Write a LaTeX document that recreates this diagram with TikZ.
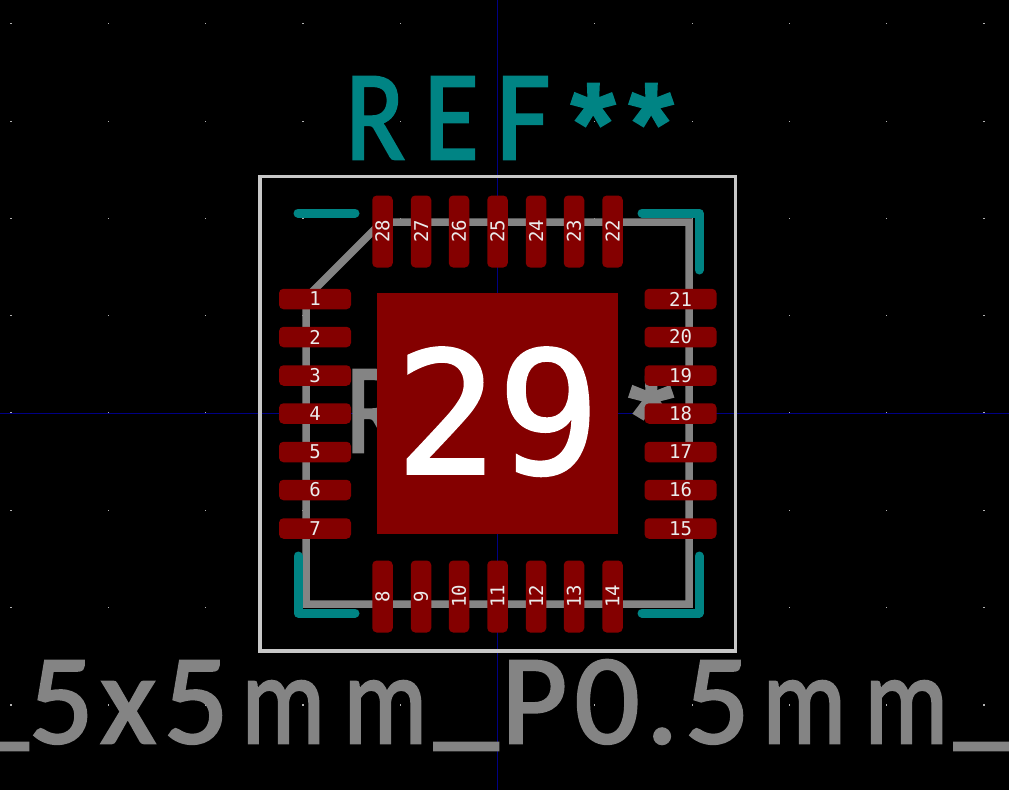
\documentclass[tikz,border=0pt]{standalone}
\usepackage{fontspec}
\setmainfont{Carlito}
\newfontfamily\numfont{DejaVu Sans Mono}
\newfontfamily\hugefont[RawFeature={embolden=1.5}]{DejaVu Sans Mono}
\newfontfamily\bigfont[RawFeature={embolden=2}]{Carlito}
\newfontfamily\starfont[RawFeature={embolden=5}]{Liberation Sans}
\definecolor{pad}{HTML}{840000}
\definecolor{silk}{HTML}{008484}
\definecolor{fab}{HTML}{848484}
\definecolor{crt}{HTML}{C8C8C8}
\definecolor{axis}{HTML}{000084}
\newcommand{\gl}[2]{\hbox to 0pt{\hss#2\hss}\kern#1bp\relax}
\newcommand{\nar}[2]{\scalebox{#1}[1]{#2}}
\newcommand{\und}{\raisebox{10bp}{\_}}
\newcommand{\stc}{\raisebox{-2bp}{\starfont\fontsize{110bp}{110bp}\selectfont *}}
\tikzset{
  x=1bp,y=-1bp,
  padbase/.style={fill=pad,rounded corners=4.5bp,inner sep=0pt,minimum width=72bp,minimum height=20.5bp,text=white!92!black,font=\numfont\fontsize{19bp}{19bp}\selectfont},
  hpad/.style={padbase},
  vpad/.style={padbase,rotate=90},
  epad/.style={fill=pad,inner sep=0pt,minimum width=241bp,minimum height=241bp,text=white,font=\hugefont\fontsize{170bp}{170bp}\selectfont},
  silkline/.style={draw=silk,line width=9bp,line cap=round,line join=round},
  fabline/.style={draw=fab,line width=7.5bp,line cap=round,line join=round},
  bigtext/.style={inner sep=0pt,anchor=base west,font=\bigfont\fontsize{128bp}{128bp}\selectfont},
}
\newcommand{\reftext}{\gl{76}{\nar{.85}{R}}\gl{72}{\nar{.88}{E}}\gl{70}{\nar{.92}{F}}\gl{58}{\stc}\gl{0}{\stc}}
\begin{document}
\begin{tikzpicture}
\path[use as bounding box,fill=black] (0,0) rectangle (1009,790);
\begin{scope}
\clip (0,0) rectangle (1009,790);
% grid
\foreach \i in {-5,...,5}\foreach \j in {-4,...,3}
  \fill[white!70!black] ({497.5+97.3*\i-0.6},{413+97.3*\j-0.6}) rectangle +(1.2,1.2);
\draw[axis,line width=0.8bp] (497.5,0) -- (497.5,790);
\draw[axis,line width=0.8bp] (0,413.5) -- (1009,413.5);
% fab outline and fab texts
\draw[fabline,line cap=butt,line join=miter] (382,222) -- (689,222) -- (689,604) -- (306,604) -- (306,298) -- cycle;
\node[bigtext,text=fab] (fabref) at (375,452) {\reftext};
\node[bigtext,text=fab] (fabval) at (-4,743) {\gl{65}{\und}\gl{67}{5}\gl{68}{x}\gl{87}{5}\gl{102}{\nar{.82}{m}}\gl{81}{\nar{.82}{m}}\gl{68}{\und}\gl{73}{P}\gl{55}{0}\gl{55}{.}\gl{87}{5}\gl{102}{\nar{.82}{m}}\gl{80}{\nar{.82}{m}}\gl{0}{\und}};
% courtyard
\draw[crt,line width=3.5bp] (260,176.5) rectangle (735.5,651);
% silk
\draw[silkline] (298,213) -- (355,213);
\draw[silkline] (642,213) -- (699,213) -- (699,270);
\draw[silkline] (298,556) -- (298,613) -- (355,613);
\draw[silkline] (699,556) -- (699,613) -- (642,613);
\node[bigtext,text=silk] (silkref) at (375,159) {\reftext};
% pads
\node[epad] (p29) at (497.5,413.5) {\raisebox{6bp}{29}};
\node[hpad] (p1) at (315,299) {1};
\node[hpad] (p2) at (315,337) {2};
\node[hpad] (p3) at (315,375.5) {3};
\node[hpad] (p4) at (315,413.5) {4};
\node[hpad] (p5) at (315,452) {5};
\node[hpad] (p6) at (315,490) {6};
\node[hpad] (p7) at (315,528.5) {7};
\node[vpad] (p8) at (382.5,596.5) {8};
\node[vpad] (p9) at (421,596.5) {9};
\node[vpad] (p10) at (459,596.5) {10};
\node[vpad] (p11) at (497.5,596.5) {11};
\node[vpad] (p12) at (536,596.5) {12};
\node[vpad] (p13) at (574,596.5) {13};
\node[vpad] (p14) at (612.5,596.5) {14};
\node[hpad] (p15) at (680.5,528.5) {15};
\node[hpad] (p16) at (680.5,490) {16};
\node[hpad] (p17) at (680.5,452) {17};
\node[hpad] (p18) at (680.5,413.5) {18};
\node[hpad] (p19) at (680.5,375.5) {19};
\node[hpad] (p20) at (680.5,337) {20};
\node[hpad] (p21) at (680.5,299) {21};
\node[vpad] (p22) at (612.5,231.5) {22};
\node[vpad] (p23) at (574,231.5) {23};
\node[vpad] (p24) at (536,231.5) {24};
\node[vpad] (p25) at (497.5,231.5) {25};
\node[vpad] (p26) at (459,231.5) {26};
\node[vpad] (p27) at (421,231.5) {27};
\node[vpad] (p28) at (382.5,231.5) {28};
\end{scope}
\end{tikzpicture}
\end{document}
